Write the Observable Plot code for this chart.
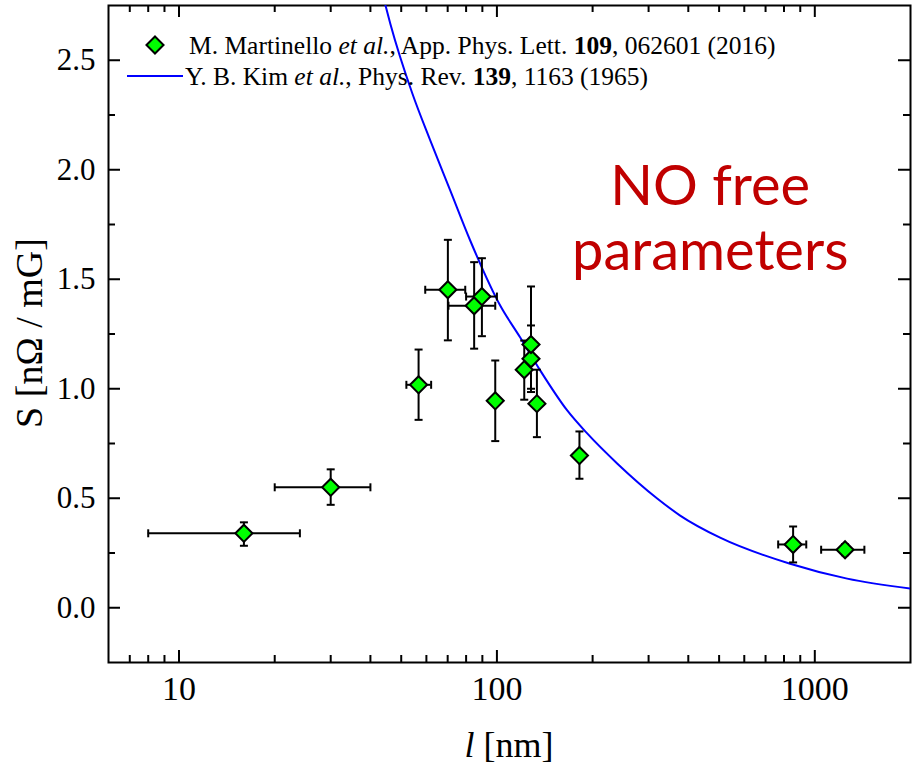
<!DOCTYPE html>
<html><head><meta charset="utf-8">
<script src="https://cdn.jsdelivr.net/npm/d3@7"></script>
<script src="https://cdn.jsdelivr.net/npm/@observablehq/plot@0.6"></script>
<style>body{margin:0;background:#fff;color:#000} #chart{width:916px;height:770px}</style>
</head><body><div id="chart"></div>
<script>
// ---- Data: Martinello et al. (2016) ----
const lengthNm = [16, 30, 56.7, 70.1, 84.8, 89.7, 98.8, 121.9, 128, 128, 133.6, 181.8, 854.6, 1245];
const sensitivity = [0.34, 0.55, 1.018, 1.452, 1.379, 1.421, 0.945, 1.087, 1.137, 1.202, 0.932, 0.695, 0.289, 0.265];
const lengthLow  = [8, 20, 51.9, 59.5, 70.4, 80, null, null, null, null, null, null, 767, 1047];
const lengthHigh = [24, 40, 62.1, 79.5, 98.8, 100, null, null, null, null, null, null, 940, 1432];
const sLow  = [0.283, 0.47, 0.858, 1.221, 1.183, 1.240, 0.761, 0.95, 0.985, 1.0, 0.779, 0.589, 0.207, 0.24];
const sHigh = [0.39, 0.632, 1.179, 1.680, 1.578, 1.596, 1.129, 1.22, 1.289, 1.467, 1.087, 0.805, 0.371, 0.29];

// ---- Kim et al. (1965) theory curve ----
const kimL = [44.2, 46.2, 54.2, 61.7, 71.3, 82.4, 102.4, 118.4, 136.8, 166.4, 192.3, 238.9, 319.3, 377.1, 503.7, 836.2, 1264, 1994];
const kimS = [2.773, 2.667, 2.348, 2.134, 1.906, 1.677, 1.380, 1.234, 1.084, 0.901, 0.796, 0.659, 0.499, 0.421, 0.320, 0.201, 0.133, 0.088];

// ---- Axes ----
const xMajor = [10, 100, 1000];
const xTickLabels = ["10", "100", "1000"];
const xMinor = [7, 8, 9, 20, 30, 40, 50, 60, 70, 80, 90, 200, 300, 400, 500, 600, 700, 800, 900];
const yMajor = [0, 0.5, 1.0, 1.5, 2.0, 2.5];
const yTickLabels = ["0.0", "0.5", "1.0", "1.5", "2.0", "2.5"];
const yMinor = [0.25, 0.75, 1.25, 1.75, 2.25];

// ---- Texts ----
const annotLines = ["NO free", "parameters"];
const annotL = [468.7, 468.7];
const annotS = [1.837, 1.541];
const legendRows = [
  [["M. Martinello ", ""], ["et al.", "italic"], [", App. Phys. Lett. ", ""], ["109", "bold"], [", 062601 (2016)", ""]],
  [["Y. B. Kim ", ""], ["et al.", "italic"], [", Phys. Rev. ", ""], ["139", "bold"], [", 1163 (1965)", ""]]
];

const pts = lengthNm.map((l, i) => ({l, s: sensitivity[i], l1: lengthLow[i], l2: lengthHigh[i], s1: sLow[i], s2: sHigh[i]}));
const xErr = pts.filter(d => d.l1 != null);
const kim = kimL.map((l, i) => ({l, s: kimS[i]}));

const capH = {draw(ctx, size) { const w = Math.sqrt(size / Math.PI); ctx.moveTo(-w, 0); ctx.lineTo(w, 0); }};
const capV = {draw(ctx, size) { const w = Math.sqrt(size / Math.PI); ctx.moveTo(0, -w); ctx.lineTo(0, w); }};

const serif = "'Liberation Serif', 'Times New Roman', serif";
const W = 916, H = 770, ML = 108, MR = 6, MT = 5, MB = 108;
const FW = W - ML - MR, FH = H - MT - MB;

// inward ticks drawn as inset rules (Plot scales)
const tickX = (ticks, len) => [
  Plot.ruleX(ticks, {x: d => d, stroke: "black", strokeWidth: 2, insetTop: FH - len}),
  Plot.ruleX(ticks, {x: d => d, stroke: "black", strokeWidth: 2, insetBottom: FH - len})
];
const tickY = (ticks, len) => [
  Plot.ruleY(ticks, {y: d => d, stroke: "black", strokeWidth: 2, insetRight: FW - len}),
  Plot.ruleY(ticks, {y: d => d, stroke: "black", strokeWidth: 2, insetLeft: FW - len})
];

const plot = Plot.plot({
  width: W, height: H,
  marginLeft: ML, marginRight: MR, marginTop: MT, marginBottom: MB,
  x: {type: "log", domain: [6, 2000]},
  y: {domain: [-0.25, 2.75]},
  style: {fontFamily: serif, background: "white", color: "black"},
  marks: [
    Plot.axisX(xMajor, {anchor: "bottom", tickSize: 0, tickPadding: 13, fontSize: 34, label: null,
      tickFormat: d => xTickLabels[xMajor.indexOf(d)]}),
    Plot.axisY(yMajor, {anchor: "left", tickSize: 0, tickPadding: 13, fontSize: 31, label: null,
      tickFormat: d => yTickLabels[yMajor.indexOf(d)]}),
    Plot.frame({stroke: "black", strokeWidth: 2}),
    ...tickX(xMajor, 12), ...tickX(xMinor, 7),
    ...tickY(yMajor, 12), ...tickY(yMinor, 7),
    // theory
    Plot.line(kim, {x: "l", y: "s", stroke: "#0000ff", strokeWidth: 2, curve: "monotone-x", clip: true}),
    // error bars
    Plot.ruleX(pts, {x: "l", y1: "s1", y2: "s2", stroke: "black", strokeWidth: 2}),
    Plot.ruleY(xErr, {y: "s", x1: "l1", x2: "l2", stroke: "black", strokeWidth: 2}),
    Plot.dot(pts, {x: "l", y: "s1", symbol: capH, r: 4, fill: "none", stroke: "black", strokeWidth: 2}),
    Plot.dot(pts, {x: "l", y: "s2", symbol: capH, r: 4, fill: "none", stroke: "black", strokeWidth: 2}),
    Plot.dot(xErr, {x: "l1", y: "s", symbol: capV, r: 4, fill: "none", stroke: "black", strokeWidth: 2}),
    Plot.dot(xErr, {x: "l2", y: "s", symbol: capV, r: 4, fill: "none", stroke: "black", strokeWidth: 2}),
    // data points
    Plot.dot(pts, {x: "l", y: "s", symbol: "diamond2", r: 7.7, fill: "#00ff00", stroke: "black", strokeWidth: 2}),
    // annotation
    Plot.text(annotLines, {x: annotL, y: annotS, text: d => d, lineAnchor: "bottom", textAnchor: "middle",
      fontFamily: "Lato, 'Open Sans', sans-serif", fontSize: 56, fill: "#c00000"})
  ]
});

const svg = d3.select(plot);
// legend
const lg = svg.append("g").attr("font-family", serif).attr("font-size", 25.5).attr("fill", "black")
  .attr("text-anchor", "start");
lg.append("path").attr("transform", "translate(155,45)")
  .attr("d", d3.symbol(d3.symbolDiamond2, Math.PI * 7.7 * 7.7)())
  .attr("fill", "#00ff00").attr("stroke", "black").attr("stroke-width", 2);
lg.append("line").attr("x1", 127).attr("x2", 183).attr("y1", 76).attr("y2", 76)
  .attr("stroke", "#0000ff").attr("stroke-width", 2);
legendRows.forEach((row, r) => {
  const t = lg.append("text").attr("x", r === 0 ? 189 : 185).attr("y", r === 0 ? 54 : 85);
  row.forEach(([s, st]) => {
    const ts = t.append("tspan").text(s);
    if (st === "italic") ts.attr("font-style", "italic");
    if (st === "bold") ts.attr("font-weight", "bold");
  });
});
// axis titles
const xt = svg.append("text").attr("x", 509).attr("y", 757).attr("text-anchor", "middle")
  .attr("font-family", serif).attr("font-size", 36).attr("fill", "black");
xt.append("tspan").attr("font-style", "italic").text("l");
xt.append("tspan").text(" [nm]");
svg.append("text").attr("transform", "translate(42,333) rotate(-90)").attr("text-anchor", "middle")
  .attr("font-family", serif).attr("font-size", 38).attr("fill", "black").text("S [nΩ / mG]");

document.getElementById("chart").appendChild(plot);
</script>
</body></html>
